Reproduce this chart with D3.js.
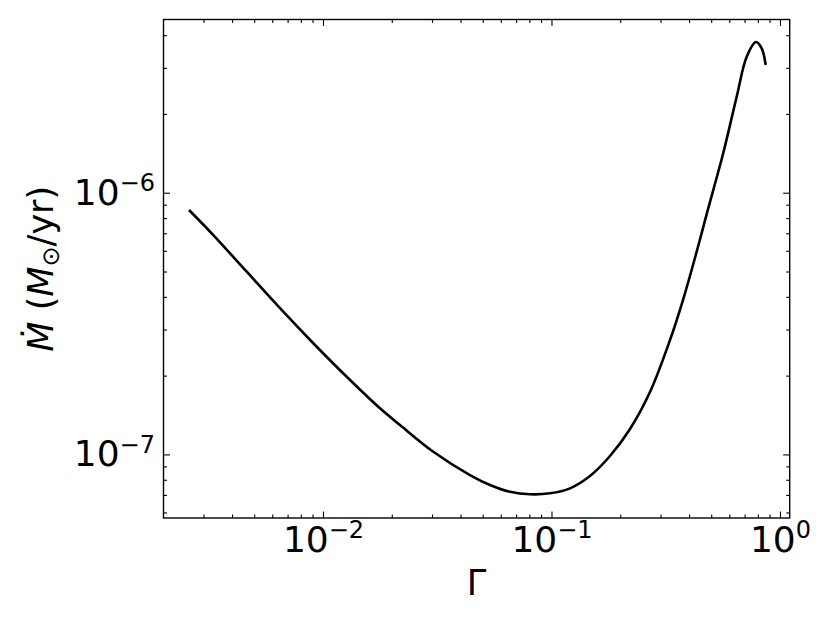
<!DOCTYPE html>
<html>
<head>
<meta charset="utf-8">
<script src="https://cdn.jsdelivr.net/npm/d3@7"></script>
<style>
  body { margin: 0; background: #fff; }
  text { font-family: "DejaVu Sans", sans-serif; fill: #000; }
</style>
</head>
<body>
<svg id="chart" width="830" height="623"></svg>
<script>
// values
var gamma = [0.002592, 0.003311, 0.004637, 0.006482, 0.009068, 0.01270, 0.01776, 0.02173,
             0.03039, 0.04398, 0.05382, 0.06583, 0.08052, 0.09849, 0.1205, 0.1474, 0.1803,
             0.2206, 0.2698, 0.3301, 0.3774, 0.4318, 0.4777, 0.5646, 0.6463, 0.7149, 0.7852,
             0.8316, 0.8659];
var mdot = [8.59e-7, 6.89e-7, 4.99e-7, 3.62e-7, 2.66e-7, 1.98e-7, 1.50e-7, 1.295e-7,
            1.024e-7, 8.34e-8, 7.64e-8, 7.20e-8, 7.04e-8, 7.10e-8, 7.42e-8, 8.27e-8, 9.86e-8,
            1.251e-7, 1.732e-7, 2.736e-7, 3.925e-7, 5.95e-7, 8.29e-7, 1.418e-6, 2.327e-6, 3.309e-6, 3.766e-6,
            3.563e-6, 3.076e-6];

var xMajor = [1e-2, 1e-1, 1e0];
var xMinor = [0.003, 0.004, 0.005, 0.006, 0.007, 0.008, 0.009,
              0.02, 0.03, 0.04, 0.05, 0.06, 0.07, 0.08, 0.09,
              0.2, 0.3, 0.4, 0.5, 0.6, 0.7, 0.8, 0.9];
var yMajor = [1e-7, 1e-6];
var yMinor = [6e-8, 7e-8, 8e-8, 9e-8, 2e-7, 3e-7, 4e-7, 5e-7, 6e-7, 7e-7, 8e-7, 9e-7, 2e-6, 3e-6, 4e-6];

var xLimits = [Math.pow(10, -2.698), Math.pow(10, 0.0425)];
var yLimits = [Math.pow(10, -7.243), Math.pow(10, -5.338)];

var svg = d3.select('#chart');
var m = {left: 163.5, top: 19.5, right: 789.7, bottom: 518};
var w = m.right - m.left, h = m.bottom - m.top;

var x = d3.scaleLog().domain(xLimits).range([0, w]);
var y = d3.scaleLog().domain(yLimits).range([h, 0]);

var g = svg.append('g').attr('transform', 'translate(' + m.left + ',' + m.top + ')');

function powLabel(sel){
  sel.each(function(d){
    var e = Math.round(Math.log10(d));
    var t = d3.select(this).text(null);
    t.append('tspan').text('10');
    t.append('tspan').attr('dy', -13.5).attr('font-size', 24)
      .text((e < 0 ? '\u2212' : '') + Math.abs(e));
  });
}

function ticks(axis, vals, size){
  return axis.tickValues(vals).tickSizeInner(-size).tickSizeOuter(0).tickFormat('');
}

// minor ticks on all sides
g.append('g').attr('transform', 'translate(0,' + h + ')').call(ticks(d3.axisBottom(x), xMinor, 3.5));
g.append('g').call(ticks(d3.axisTop(x), xMinor, 3.5));
g.append('g').call(ticks(d3.axisLeft(y), yMinor, 3.5));
g.append('g').attr('transform', 'translate(' + w + ',0)').call(ticks(d3.axisRight(y), yMinor, 3.5));
g.append('g').call(ticks(d3.axisTop(x), xMajor, 6.5));
g.append('g').attr('transform', 'translate(' + w + ',0)').call(ticks(d3.axisRight(y), yMajor, 6.5));

// labelled major ticks
var xAx = g.append('g').attr('transform', 'translate(0,' + h + ')')
  .call(d3.axisBottom(x).tickValues(xMajor).tickSizeInner(-6.5).tickSizeOuter(0).tickPadding(0));
xAx.selectAll('.tick text').attr('y', 33.5).attr('dy', null)
  .attr('font-size', 36).attr('text-anchor', 'middle').call(powLabel);

var yAx = g.append('g')
  .call(d3.axisLeft(y).tickValues(yMajor).tickSizeInner(-6.5).tickSizeOuter(0).tickPadding(0));
yAx.selectAll('.tick text').attr('x', -8.5).attr('dy', null).attr('y', 11.5)
  .attr('font-size', 36).attr('text-anchor', 'end').call(powLabel);

g.selectAll('.domain').remove();
g.selectAll('.tick line').attr('stroke', '#000').attr('stroke-width', 1.1);

// frame
g.append('rect').attr('width', w).attr('height', h)
  .attr('fill', 'none').attr('stroke', '#000').attr('stroke-width', 1.4);

// curve
var line = d3.line()
  .x(function(d, i){ return x(gamma[i]); })
  .y(function(d){ return y(d); })
  .curve(d3.curveCatmullRom.alpha(0.5));
g.append('path').datum(mdot)
  .attr('d', line)
  .attr('fill', 'none').attr('stroke', '#000').attr('stroke-width', 2.6)
  .attr('stroke-linejoin', 'round');

// axis titles
svg.append('text').attr('x', m.left + w / 2).attr('y', 595)
  .attr('text-anchor', 'middle').attr('font-size', 35).text('\u0393');

var yl = svg.append('text').attr('transform', 'translate(53,' + (m.top + h / 2) + ') rotate(-90)')
  .attr('text-anchor', 'middle').attr('font-size', 35);
yl.append('tspan').attr('font-style', 'italic').text('\u1E40');
yl.append('tspan').text(' (');
yl.append('tspan').attr('font-style', 'italic').text('M');
yl.append('tspan').attr('font-size', 24).attr('dy', 6).text('\u2299');
yl.append('tspan').attr('dy', -6).text('/yr)');
</script>
</body>
</html>
